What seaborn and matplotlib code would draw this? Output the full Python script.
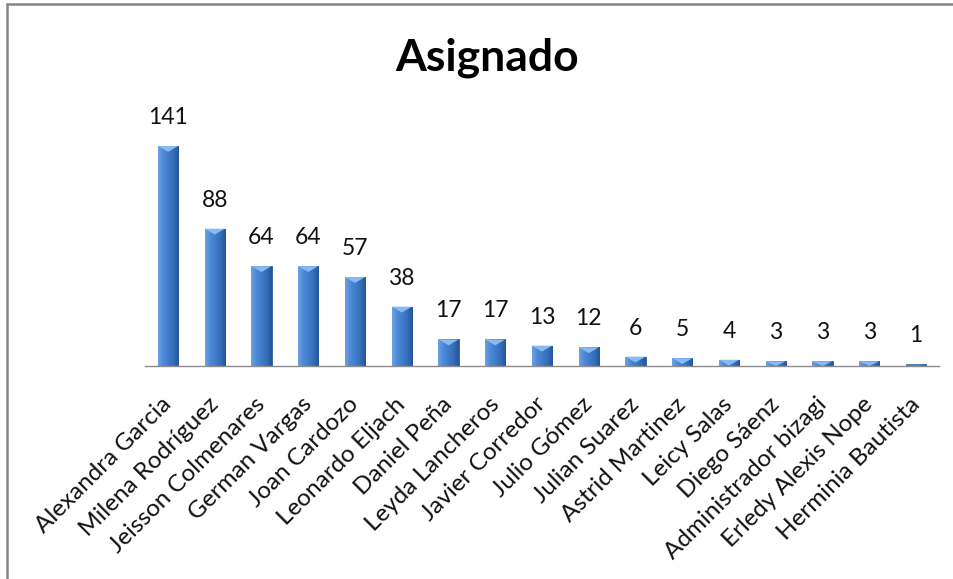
import numpy as np
import pandas as pd
import matplotlib
matplotlib.use("Agg")
import matplotlib.pyplot as plt
import matplotlib.transforms as mtransforms
import seaborn as sns
from matplotlib.colors import LinearSegmentedColormap
from matplotlib.patches import Polygon
from matplotlib.lines import Line2D

names = ["Alexandra Garcia", "Milena Rodríguez", "Jeisson Colmenares", "German Vargas",
         "Joan Cardozo", "Leonardo Eljach", "Daniel Peña", "Leyda Lancheros",
         "Javier Corredor", "Julio Gómez", "Julian Suarez", "Astrid Martinez",
         "Leicy Salas", "Diego Sáenz", "Administrador bizagi", "Erledy Alexis Nope",
         "Herminia Bautista"]
values = [141, 88, 64, 64, 57, 38, 17, 17, 13, 12, 6, 5, 4, 3, 3, 3, 1]
title = "Asignado"

df = pd.DataFrame({"name": names, "value": values})

sns.set_theme(style="white")
plt.rcParams['font.family'] = ['Lato', 'DejaVu Sans']

fig = plt.figure(figsize=(9.54, 5.79), dpi=100)
ax = fig.add_axes([0.1516, 0.3679, 0.8331, 0.4594])

sns.barplot(data=df, x="name", y="value", color="#3B76C3", width=0.43,
            saturation=1, ax=ax, edgecolor="#2A5A9C", linewidth=0.6)

ax.set_ylim(0, 170.5)
ax.set_xlim(-0.5, len(names) - 0.5)

grad = LinearSegmentedColormap.from_list(
    "bev", ["#6AA2E4", "#4E8AD6", "#3F7CCA", "#356EB8", "#25549A"])
gimg = np.linspace(0, 1, 64).reshape(1, -1)
for i, p in enumerate(ax.patches):
    x0, w, h = p.get_x(), p.get_width(), p.get_height()
    if h <= 0:
        continue
    a = 1.0 if values[i] > 1 else 0.35
    im = ax.imshow(gimg, cmap=grad, aspect="auto", extent=(x0, x0 + w, 0, h),
                   zorder=p.get_zorder() + 0.1, alpha=a)
    im.set_clip_path(p)
    th = min(h, 170.5 * 0.022)
    tri = Polygon([[x0, h], [x0 + w, h], [x0 + w / 2, h - th]], closed=True,
                  facecolor="#86BBF2", edgecolor="none",
                  zorder=p.get_zorder() + 0.2, alpha=a)
    ax.add_patch(tri)

ax.set_xlabel("")
ax.set_ylabel("")
ax.set_yticks([])
for s in ["top", "right", "left"]:
    ax.spines[s].set_visible(False)
ax.spines["bottom"].set_color("#8C8C8C")
ax.spines["bottom"].set_linewidth(1.0)

ax.tick_params(axis="x", length=0, pad=12)
ax.set_xticks(range(len(names)))
ax.set_xticklabels(names, rotation=45, ha="right", va="top",
                   rotation_mode="anchor", fontsize=17.5, color="#111111")
shift = mtransforms.ScaledTranslation(-7 / 100, -11 / 100, fig.dpi_scale_trans)
for lab in ax.get_xticklabels():
    lab.set_transform(lab.get_transform() + shift)

for i, v in enumerate(values):
    ax.annotate(str(v), (i, v), xytext=(0, 13), textcoords="offset points",
                ha="center", va="bottom", fontsize=16.5, color="#111111")

fig.text(0.511, 0.9, title, ha="center", va="center", fontsize=32,
         fontweight="bold", color="black")

fig.add_artist(Line2D([0.0073, 0.0073], [0, 0.9935], transform=fig.transFigure,
                      color="#868686", lw=1.8))
fig.add_artist(Line2D([0.0073, 1.0], [0.9935, 0.9935], transform=fig.transFigure,
                      color="#868686", lw=1.8))

fig.savefig("out.png", dpi=100)
